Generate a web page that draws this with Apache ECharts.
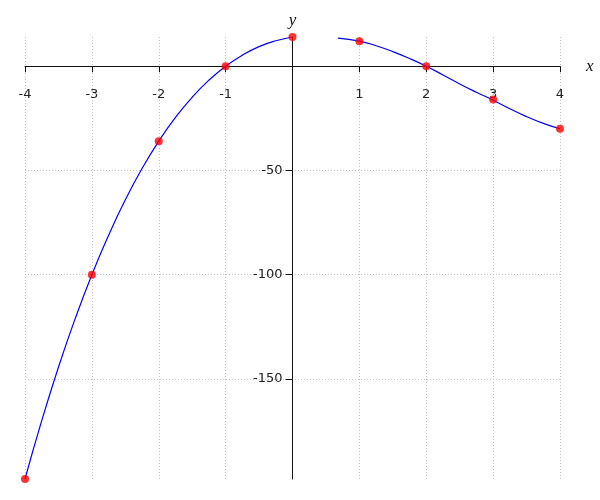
<!DOCTYPE html>
<html>
<head>
<meta charset="utf-8">
<script src="https://cdn.jsdelivr.net/npm/echarts@6/dist/echarts.min.js"></script>
<style>html,body{margin:0;padding:0;background:#fff}#c{width:600px;height:500px}</style>
</head>
<body>
<div id="c"></div>
<script>
// Data points (red markers)
const pointX = [-4, -3, -2, -1, 0, 1, 2, 3, 4];
const pointY = [-198, -100, -36, 0, 14, 12, 0, -16, -30];

// Left curve samples
const leftCurveX = [-4, -3.75, -3.5, -3.25, -3, -2.75, -2.5, -2.25, -2, -1.75, -1.5, -1.25, -1, -0.75, -0.5, -0.25, 0];
const leftCurveY = [-198, -170, -144.4, -121.1, -100, -81.1, -64.1, -49.1, -36, -24.6, -14.9, -6.7, 0, 5.3, 9.4, 12.2, 14];

// Right curve samples
const rightCurveX = [0.68, 1, 1.25, 1.5, 1.75, 2, 2.25, 2.5, 2.75, 3, 3.25, 3.5, 3.75, 4];
const rightCurveY = [13.5, 12, 9.8, 7, 3.7, 0, -4.2, -8.5, -12.5, -16.3, -20.4, -24.2, -27.4, -30];

// Tick labels
const xTicks = [-4, -3, -2, -1, 1, 2, 3, 4];
const yTicks = [-150, -100, -50];

const zip = (a, b) => a.map((v, i) => [v, b[i]]);

const X_MIN = -4, X_MAX = 4, Y_MIN = -198, Y_MAX = 14;
const GRID = {left: 25, right: 40, top: 37, bottom: 21};
const W = 600, H = 500;
const gw = W - GRID.left - GRID.right, gh = H - GRID.top - GRID.bottom;
// distance to move the axes from the grid edges onto the zero lines
const xAxisShift = gh * (0 - Y_MIN) / (Y_MAX - Y_MIN);
const yAxisShift = gw * (0 - X_MIN) / (X_MAX - X_MIN);

const chart = echarts.init(document.getElementById('c'), null, {renderer: 'canvas'});
const gridLine = {show: true, lineStyle: {color: '#c0c0c0', width: 1, type: [1, 2]}};
const labelFont = {color: '#222', fontSize: 13, fontFamily: 'DejaVu Sans'};
chart.setOption({
  animation: false,
  backgroundColor: '#fff',
  grid: Object.assign({containLabel: false, outerBoundsMode: 'none'}, GRID),
  xAxis: {
    type: 'value', min: X_MIN, max: X_MAX, position: 'bottom', offset: -xAxisShift,
    name: 'x', nameLocation: 'end', nameGap: 26,
    nameTextStyle: {fontFamily: 'Liberation Serif', fontStyle: 'italic', fontSize: 17, color: '#111', verticalAlign: 'middle'},
    axisLine: {onZero: false, lineStyle: {color: '#111', width: 1}},
    axisTick: {show: true, length: 6, customValues: xTicks, lineStyle: {color: '#111'}},
    axisLabel: Object.assign({margin: 22, customValues: xTicks}, labelFont),
    splitLine: gridLine
  },
  yAxis: {
    type: 'value', min: Y_MIN, max: Y_MAX, position: 'left', offset: -yAxisShift,
    name: 'y', nameLocation: 'end', nameGap: 8,
    nameTextStyle: {fontFamily: 'Liberation Serif', fontStyle: 'italic', fontSize: 17, color: '#111'},
    axisLine: {onZero: false, lineStyle: {color: '#111', width: 1}},
    axisTick: {show: true, length: 7, customValues: yTicks, lineStyle: {color: '#111'}},
    axisLabel: Object.assign({margin: 10, customValues: yTicks}, labelFont),
    splitLine: gridLine
  },
  series: [
    {type: 'line', data: zip(leftCurveX, leftCurveY), smooth: true, showSymbol: false, symbol: 'none',
     lineStyle: {color: '#0000ff', width: 1.2}, z: 2},
    {type: 'line', data: zip(rightCurveX, rightCurveY), smooth: true, showSymbol: false, symbol: 'none',
     lineStyle: {color: '#0000ff', width: 1.2}, z: 2},
    {type: 'scatter', data: zip(pointX, pointY), symbol: 'circle', symbolSize: 8,
     itemStyle: {color: '#ff0000'}, z: 3}
  ]
});
</script>
</body>
</html>
